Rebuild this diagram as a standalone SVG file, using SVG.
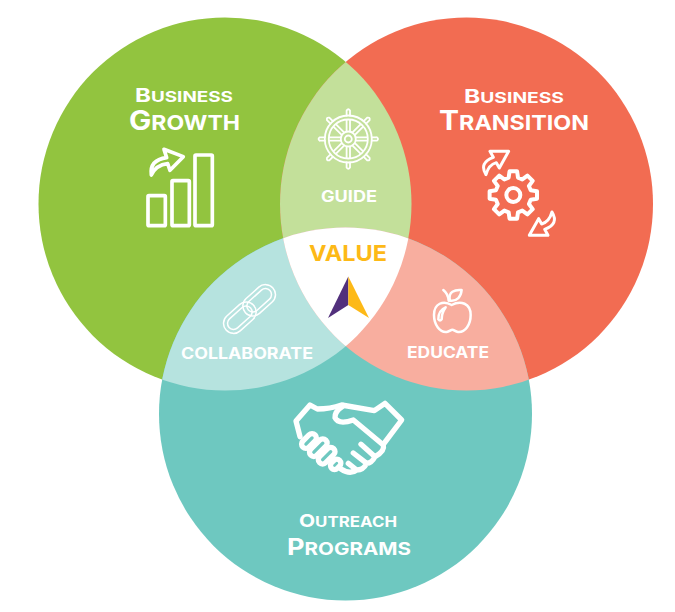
<svg xmlns="http://www.w3.org/2000/svg" width="675" height="612" viewBox="0 0 675 612">
<style>
text{font-family:Inter,"Liberation Sans",sans-serif;font-weight:700;fill:#fff}
.i{fill:none;stroke:#fff;stroke-linecap:round;stroke-linejoin:round}
</style>
<defs>
<clipPath id="cg"><circle cx="225" cy="204" r="186.500"/></clipPath>
<clipPath id="cr"><circle cx="466.500" cy="204" r="186.500"/></clipPath>
<path id="sp" d="M-1.700 -8V-19M1.700 -8V-19M-1.700 -23.500V-28.500M1.700 -23.500V-28.500Q0 -31 -1.700 -28.500"/>
<path id="ar" d="M168 284Q146 248 190 232L180 214L236 214L208 264L199 248Q176 254 168 284Z"/>
</defs>
<rect width="675" height="612" fill="#fff"/>
<g id="circles">
<circle cx="225" cy="204" r="186.500" fill="#92c43f"/>
<circle cx="466.500" cy="204" r="186.500" fill="#f26c52"/>
<circle cx="345.500" cy="414" r="186.500" fill="#6ec8c0"/>
<g clip-path="url(#cg)"><circle cx="466.500" cy="204" r="186.500" fill="#c3e09a"/><circle cx="345.500" cy="414" r="186.500" fill="#b6e3df"/></g>
<g clip-path="url(#cr)"><circle cx="345.500" cy="414" r="186.500" fill="#f8ae9f"/></g>
<g clip-path="url(#cg)"><g clip-path="url(#cr)"><circle cx="345.500" cy="414" r="186.500" fill="#fff"/></g></g>
</g>
<g id="business-growth">
<text x="135" y="102" font-size="14.500" textLength="98" lengthAdjust="spacingAndGlyphs"><tspan font-size="18.500">B</tspan>USINESS</text>
<text x="129" y="130" font-size="20.500" textLength="111" lengthAdjust="spacingAndGlyphs"><tspan font-size="26.500">G</tspan>ROWTH</text>
<g class="i" transform="translate(120,70) scale(.3333)" stroke-width="11">
<rect x="84" y="377" width="52" height="90" rx="3"/>
<rect x="156" y="332" width="52" height="135" rx="3"/>
<rect x="225" y="255" width="52" height="212" rx="3"/>
<path d="M94 315Q88 270 140 263L132 238L190 260L150 301L143 281Q108 285 94 315Z"/>
</g>
</g>
<g id="business-transition">
<text x="464" y="103" font-size="14.500" textLength="100" lengthAdjust="spacingAndGlyphs"><tspan font-size="18.500">B</tspan>USINESS</text>
<text x="439" y="130" font-size="20.500" textLength="150" lengthAdjust="spacingAndGlyphs"><tspan font-size="26.500">T</tspan>RANSITION</text>
<g class="i" transform="translate(430,80) scale(.3333)" stroke-width="12">
<circle cx="250" cy="345" r="21"/>
<path transform="translate(250,345)" d="M-11.300 -71.100L11.300 -71.100L14 -52.200L27 -46.800L42.300 -58.200L58.200 -42.300L46.800 -27L52.200 -14L71.100 -11.300L71.100 11.300L52.200 14L46.800 27L58.200 42.300L42.300 58.200L27 46.800L14 52.200L11.300 71.100L-11.300 71.100L-14 52.200L-27 46.800L-42.300 58.200L-58.200 42.300L-46.800 27L-52.200 14L-71.100 11.300L-71.100 -11.300L-52.200 -14L-46.800 -27L-58.200 -42.300L-42.300 -58.200L-27 -46.800L-14 -52.200Z"/>
<use href="#ar" stroke-width="9"/>
<use href="#ar" stroke-width="9" transform="rotate(180 267 340)"/>
</g>
</g>
<g id="guide">
<text x="321" y="202" font-size="15.500" textLength="56" lengthAdjust="spacingAndGlyphs">GUIDE</text>
<g class="i" transform="translate(348.300,139)" stroke-width="1.800">
<circle r="23.500"/><circle r="19.500"/><circle r="7.500"/><circle r="3.500"/>
<use href="#sp"/>
<use href="#sp" transform="rotate(45)"/>
<use href="#sp" transform="rotate(90)"/>
<use href="#sp" transform="rotate(135)"/>
<use href="#sp" transform="rotate(180)"/>
<use href="#sp" transform="rotate(225)"/>
<use href="#sp" transform="rotate(270)"/>
<use href="#sp" transform="rotate(315)"/>
</g>
</g>
<g id="value">
<text x="309" y="261" font-size="22" textLength="78" lengthAdjust="spacingAndGlyphs" style="fill:#fdb917">VALUE</text>
<path d="M348.300 276.500L348.300 305L328 318Z" fill="#52307c"/>
<path d="M348.300 276.500L348.300 305L369 318Z" fill="#fdb917"/>
</g>
<g id="collaborate">
<text x="181" y="359" font-size="15.500" textLength="132" lengthAdjust="spacingAndGlyphs">COLLABORATE</text>
<g class="i" transform="translate(249.500,309) rotate(-42)" stroke-width="1.500">
<rect x="-31.500" y="-10" width="37" height="20" rx="10"/>
<rect x="-27.500" y="-6" width="29" height="12" rx="6"/>
<rect x="-5.500" y="-10" width="37" height="20" rx="10"/>
<rect x="-1.500" y="-6" width="29" height="12" rx="6"/>
</g>
</g>
<g id="educate">
<text x="407" y="358" font-size="15.500" textLength="82" lengthAdjust="spacingAndGlyphs">EDUCATE</text>
<g class="i" transform="translate(400,280) scale(.3333)" stroke-width="7.500">
<path d="M155 75C130 60 102 70 102 105C102 135 120 158 140 156C148 155 152 149 157 149C162 149 166 155 174 156C195 158 212 135 212 105C212 70 182 60 155 75Z"/>
<path d="M115 118C115 100 122 88 137 82C128 95 125 105 125 118Q120 125 115 118Z"/>
<path d="M150 62C143 35 165 28 185 30C183 50 172 65 150 62Z"/>
<path d="M146 62C145 48 140 38 130 30"/>
</g>
</g>
<g id="outreach-programs">
<text x="299" y="527" font-size="14.500" textLength="98" lengthAdjust="spacingAndGlyphs"><tspan font-size="18">O</tspan>UTREACH</text>
<text x="287" y="555" font-size="17.500" textLength="124" lengthAdjust="spacingAndGlyphs"><tspan font-size="23">P</tspan>ROGRAMS</text>
<g class="i" transform="translate(285,395) scale(.3333)" stroke-width="16">
<path d="M45 125L33 78L75 30L97 42Q135 42 170 30L268 47L300 25L350 75L295 148"/>
<path d="M175 32Q148 50 150 68Q160 90 205 75L295 150Q300 168 270 185L228 148M270 185Q260 205 245 205L205 174M245 205Q235 225 215 225L190 205M215 225Q195 240 168 222"/>
<rect x="-26" y="-13" width="52" height="26" rx="13" transform="translate(72,138) rotate(-45)"/>
<rect x="-32" y="-13" width="64" height="26" rx="13" transform="translate(100,158) rotate(-45)"/>
<rect x="-30" y="-13" width="60" height="26" rx="13" transform="translate(125,182) rotate(-45)"/>
<rect x="-17" y="-12" width="34" height="24" rx="12" transform="translate(152,208) rotate(-45)"/>
</g>
</g>
</svg>
